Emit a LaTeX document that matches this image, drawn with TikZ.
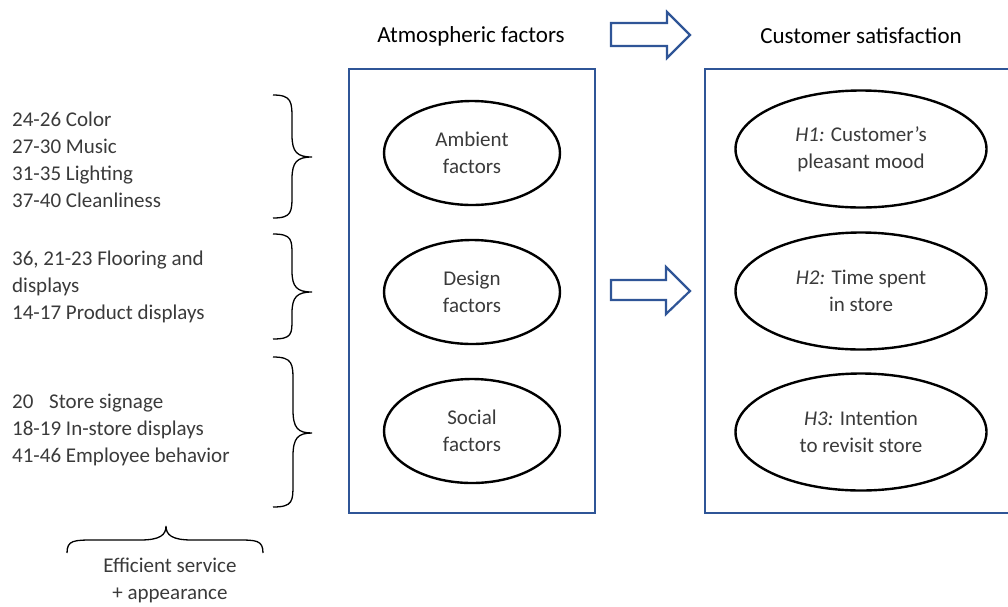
\documentclass[tikz,border=0pt]{standalone}
\usepackage{fontspec}
\setmainfont{Carlito}
\usetikzlibrary{shapes.geometric}
\definecolor{ofblue}{HTML}{2F5597}
\definecolor{txtgray}{HTML}{3A3A3A}
\tikzset{
  titletext/.style={font=\fontsize{23}{27}\selectfont, text=black, inner sep=0pt},
  bodytext/.style={font=\fontsize{21}{27}\selectfont, text=txtgray, inner sep=0pt, align=left, anchor=west},
  captext/.style={font=\fontsize{21}{27}\selectfont, text=txtgray, inner sep=0pt, align=center},
  bluebox/.style={draw=ofblue, line width=2.2pt},
  blockarrow/.style={draw=ofblue, line width=2.2pt, fill=white, line join=miter},
  oval/.style={ellipse, draw=black, line width=2.4pt, inner sep=0pt, align=center,
     font=\fontsize{21}{27}\selectfont, text=txtgray},
  smalloval/.style={oval, minimum width=176pt, minimum height=104pt},
  bigoval/.style={oval, minimum width=251pt, minimum height=117pt},
  bracepath/.style={draw=black, line width=1.3pt}
}
\begin{document}
\begin{tikzpicture}[x=1pt,y=-1pt]
\useasboundingbox (0,0) rectangle (1008,606);
\path[clip] (0,0) rectangle (1008,606);

% titles
\node[titletext] (t1) at (471,36) {Atmospheric factors};
\node[titletext] (t2) at (861,36) {Customer satisfaction};

% boxes
\draw[bluebox] (349,69) rectangle (595,513);
\draw[bluebox] (705,69) rectangle (1030,513);

% block arrows
\draw[blockarrow] (611,23) -- (667,23) -- (667,12) -- (690,35) -- (667,58) -- (667,46) -- (611,46) -- cycle;
\draw[blockarrow] (611,280) -- (666,280) -- (666,267) -- (690,291) -- (666,314) -- (666,300) -- (611,300) -- cycle;

% left ellipses
\node[smalloval] (amb) at (472,153) {Ambient\\factors};
\node[smalloval] (des) at (472,292) {Design\\factors};
\node[smalloval] (soc) at (472,431) {Social\\factors};

% right ellipses
\node[bigoval] (h1) at (861,149) {\textit{H1:} Customer’s\\pleasant mood};
\node[bigoval] (h2) at (861,291) {\textit{H2:} Time spent\\in store};
\node[bigoval] (h3) at (861,432) {\textit{H3:} Intention\\to revisit store};

% left texts
\node[bodytext] (g1) at (12,160) {24-26 Color\\27-30 Music\\31-35 Lighting\\37-40 Cleanliness};
\node[bodytext] (g2) at (12,287) {36, 21-23 Flooring and\\displays\\14-17 Product displays};
\node[bodytext] (g3) at (12,430) {20\hspace{0.75em}Store signage\\18-19 In-store displays\\41-46 Employee behavior};
\node[captext] (cap) at (170,580) {Efficient service\\+ appearance};

% braces
\draw[bracepath] (273,95) .. controls (292,95) and (292,102) .. (292,120) -- (292,135)
  .. controls (292,152) and (297,157) .. (312,157)
  .. controls (297,157) and (292,162) .. (292,179) -- (292,194)
  .. controls (292,212) and (292,218) .. (273,218);
\draw[bracepath] (273,234) .. controls (292,234) and (292,240) .. (292,255) -- (292,271)
  .. controls (292,287) and (297,292) .. (312,292)
  .. controls (297,292) and (292,297) .. (292,313) -- (292,319)
  .. controls (292,334) and (292,339) .. (273,339);
\draw[bracepath] (273,357) .. controls (293,357) and (293,364) .. (293,382) -- (293,410)
  .. controls (293,428) and (298,433) .. (312,433)
  .. controls (298,433) and (293,438) .. (293,456) -- (293,484)
  .. controls (293,501) and (293,507) .. (273,507);
\draw[bracepath] (67,553) .. controls (67,540) and (74,540) .. (95,540) -- (140,540)
  .. controls (160,540) and (166,535) .. (166,526)
  .. controls (166,535) and (172,540) .. (192,540) -- (237,540)
  .. controls (256,540) and (263,540) .. (263,553);
\end{tikzpicture}
\end{document}
